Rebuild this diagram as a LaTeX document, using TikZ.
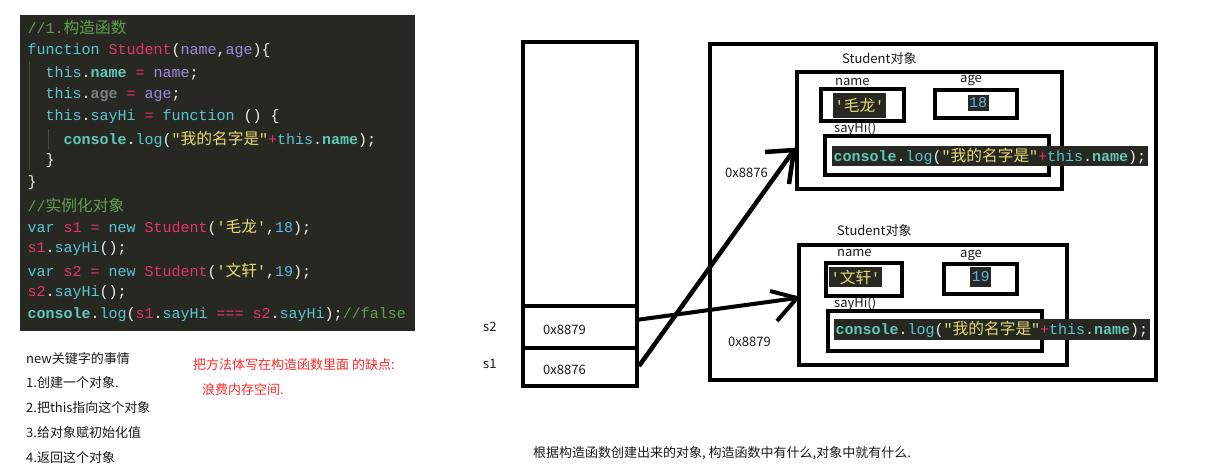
\documentclass[tikz,border=0pt]{standalone}
\usepackage{fontspec}
\newfontfamily\codefont{Liberation Mono}[Ligatures=TeXOff]
\newfontfamily\cjk{Noto Sans CJK SC}[Ligatures=TeXOff]
\definecolor{codebg}{HTML}{272822}
\definecolor{cmt}{HTML}{5FA14E}
\definecolor{kw}{HTML}{58C6D6}
\definecolor{fnc}{HTML}{E8336B}
\definecolor{par}{HTML}{A08BE6}
\definecolor{pun}{HTML}{F2F2EC}
\definecolor{prop}{HTML}{62C9B6}
\definecolor{gry}{HTML}{808080}
\definecolor{str}{HTML}{E6DB74}
\definecolor{num}{HTML}{5DB7E8}
\definecolor{guide}{HTML}{4A4B45}
\definecolor{note}{HTML}{FF2A2A}
\newcommand\zck[1]{{\cjk\fontsize{15.7}{16}\selectfont #1}}
\newcommand\zcm[1]{\textcolor{cmt}{#1}}
\newcommand\zkw[1]{\textcolor{kw}{#1}}
\newcommand\zfn[1]{\textcolor{fnc}{#1}}
\newcommand\zpa[1]{\textcolor{par}{#1}}
\newcommand\zpu[1]{\textcolor{pun}{#1}}
\newcommand\zpb[1]{{\bfseries\color{prop}#1}}
\newcommand\zgr[1]{{\bfseries\color{gry}#1}}
\newcommand\zst[1]{\textcolor{str}{#1}}
\newcommand\zop[1]{\textcolor{fnc}{#1}}
\newcommand\znu[1]{\textcolor{num}{#1}}
\newcommand\zlog{\zpb{console}\zpu{.}\zkw{log}\zpu{(}\zst{"\zck{我的名字是}"}\zop{+}\zkw{this}\zpu{.}\zpb{name}\zpu{);}}
\tikzset{
  codeline/.style={font=\codefont\fontsize{15}{16}\selectfont, anchor=west, inner sep=0pt, text=pun},
  lbl/.style={font=\cjk\fontsize{13}{14}\selectfont, anchor=west, inner sep=0pt, text=black!90},
  notered/.style={lbl, text=note},
  heavybox/.style={draw=black, line width=4pt},
  darkchip/.style={fill=codebg, font=\codefont\fontsize{15}{16}\selectfont, inner xsep=1.5pt, inner ysep=0pt},
  pointer/.style={draw=black, line width=4.5pt},
}
\begin{document}
\begin{tikzpicture}[x=1pt,y=-1pt]
\useasboundingbox[fill=white] (0,0) rectangle (1205,475);
% ---------- code block ----------
\fill[codebg] (20,15) rectangle (415,331);
\draw[guide, line width=1pt] (29.5,61) -- (29.5,170);
\draw[guide, line width=1pt] (48,129) -- (48,149);
\node[codeline] (l1) at (27.5,28) {\zcm{//1.\zck{构造函数}}};
\node[codeline] (l2) at (27.5,50.5) {\zkw{function} \zfn{Student}\zpu{(}\zpa{name}\zpu{,}\zpa{age}\zpu{)\{}};
\node[codeline] (l3) at (45.5,73) {\zkw{this}\zpu{.}\zpb{name} \zop{=} \zpa{name}\zpu{;}};
\node[codeline] (l4) at (45.5,95) {\zkw{this}\zpu{.}\zgr{age} \zop{=} \zpa{age}\zpu{;}};
\node[codeline] (l5) at (45.5,117) {\zkw{this}\zpu{.}\zkw{sayHi} \zop{=} \zkw{function} \zpu{() \{}};
\node[codeline] (l6) at (63.5,139) {\zlog};
\node[codeline] (l7) at (45.5,161) {\zpu{\}}};
\node[codeline] (l8) at (27.5,183) {\zpu{\}}};
\node[codeline] (l9) at (27.5,205) {\zcm{//\zck{实例化对象}}};
\node[codeline] (l10) at (27.5,227) {\zkw{var} \zfn{s1} \zop{=} \zkw{new} \zfn{Student}\zpu{(}\zst{'\zck{毛龙}'}\zpu{,}\znu{18}\zpu{);}};
\node[codeline] (l11) at (27.5,249) {\zfn{s1}\zpu{.}\zkw{sayHi}\zpu{();}};
\node[codeline] (l12) at (27.5,271) {\zkw{var} \zfn{s2} \zop{=} \zkw{new} \zfn{Student}\zpu{(}\zst{'\zck{文轩}'}\zpu{,}\znu{19}\zpu{);}};
\node[codeline] (l13) at (27.5,293) {\zfn{s2}\zpu{.}\zkw{sayHi}\zpu{();}};
\node[codeline] (l14) at (27.5,315) {\zpb{console}\zpu{.}\zkw{log}\zpu{(}\zfn{s1}\zpu{.}\zkw{sayHi} \zop{===} \zfn{s2}\zpu{.}\zkw{sayHi}\zpu{);}\zcm{//false}};
% ---------- notes ----------
\node[lbl] (n0) at (26,359) {new关键字的事情};
\node[lbl] (n1) at (26,383) {1.创建一个对象.};
\node[lbl] (n2) at (26,408) {2.把this指向这个对象};
\node[lbl] (n3) at (26,433) {3.给对象赋初始化值};
\node[lbl] (n4) at (26,458) {4.返回这个对象};
\node[notered] (r1) at (193,365) {把方法体写在构造函数里面 的缺点:};
\node[notered] (r2) at (202,390) {浪费内存空间.};
\node[lbl] (bottom) at (533,453) {根据构造函数创建出来的对象, 构造函数中有什么,对象中就有什么.};
% ---------- stack ----------
\draw[heavybox] (523,42) rectangle (637,386);
\draw[heavybox] (523,306) -- (637,306);
\draw[heavybox] (523,348) -- (637,348);
\node[lbl] (s2lbl) at (483,327) {s2};
\node[lbl] (s1lbl) at (483,364) {s1};
\node[lbl] (s2val) at (543,330) {0x8879};
\node[lbl] (s1val) at (543,370) {0x8876};
% ---------- heap ----------
\draw[heavybox] (710,44) rectangle (1156,380);
\node[lbl] (addr1) at (725,173) {0x8876};
\node[lbl] (addr2) at (728,342) {0x8879};
% object 1
\node[lbl] (t1) at (842,59) {Student对象};
\node[lbl] (nm1) at (835,82) {name};
\node[lbl] (ag1) at (960,80) {age};
\node[lbl] (sh1) at (834,129) {sayHi()};
\draw[heavybox] (797,72) rectangle (1062,189);
\draw[heavybox] (821,89) rectangle (904,121);
\draw[heavybox] (935,90) rectangle (1017,118);
\draw[heavybox] (825,136) rectangle (1049,175);
\node[darkchip, minimum height=25pt] (v1n) at (859.5,105.5) {\zst{'\zck{毛龙}'}};
\node[darkchip, minimum height=16pt] (v1a) at (978,103) {\znu{18}};
\node[darkchip, minimum height=20pt, anchor=west] (v1f) at (832,156) {\zlog};
% object 2
\node[lbl] (t2) at (837,231) {Student对象};
\node[lbl] (nm2) at (837,253) {name};
\node[lbl] (ag2) at (960,255) {age};
\node[lbl] (sh2) at (834,304) {sayHi()};
\draw[heavybox] (799,245) rectangle (1067,365);
\draw[heavybox] (826,263) rectangle (902,296);
\draw[heavybox] (944,264) rectangle (1017,294);
\draw[heavybox] (828,311) rectangle (1042,351);
\node[darkchip, minimum height=20pt] (v2n) at (855.5,277) {\zst{'\zck{文轩}'}};
\node[darkchip, minimum height=20pt] (v2a) at (980.5,277) {\znu{19}};
\node[darkchip, minimum height=21pt, anchor=west] (v2f) at (834,329.5) {\zlog};
% ---------- pointers ----------
\coordinate (p1s) at (639,366);
\coordinate (p1t) at (794,150);
\coordinate (p1a) at (765,152);
\coordinate (p1b) at (789,184);
\coordinate (p2s) at (636,320);
\coordinate (p2t) at (797,298);
\coordinate (p2a) at (770,291);
\coordinate (p2b) at (777,321);
\draw[pointer] (p1s) -- (p1t);
\draw[pointer] (p1a) -- (p1t) -- (p1b);
\draw[pointer, line width=4pt] (p2s) -- (p2t);
\draw[pointer, line width=4pt] (p2a) -- (p2t) -- (p2b);
\end{tikzpicture}
\end{document}
